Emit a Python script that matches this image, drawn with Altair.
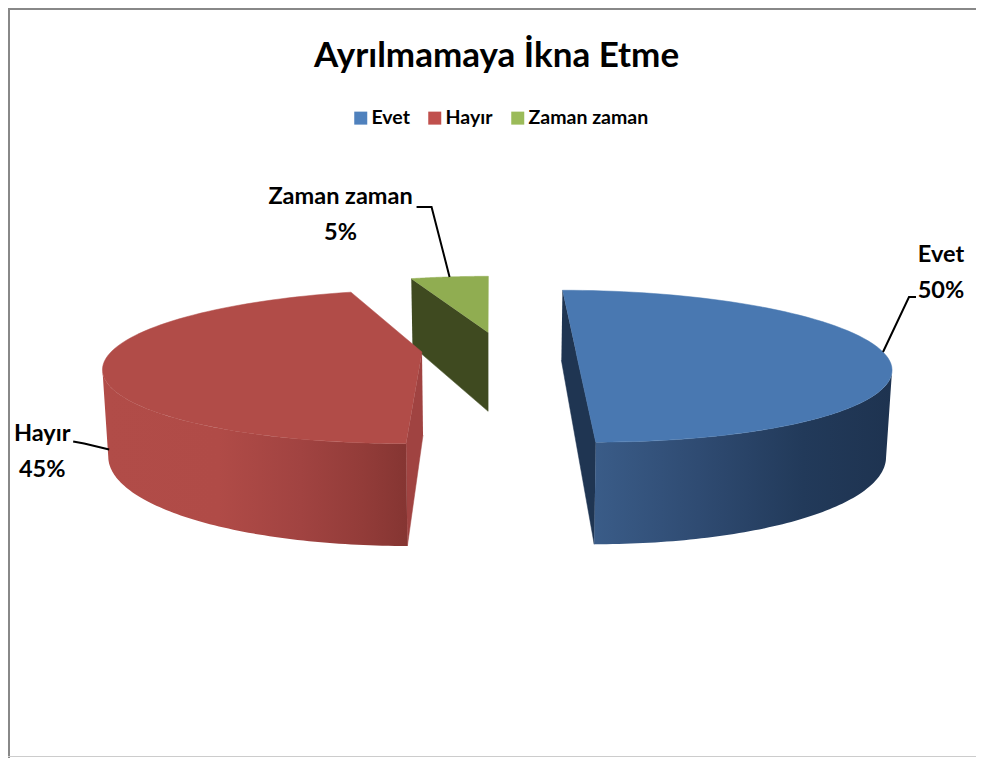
import math
import altair as alt
import pandas as pd

TITLE = "Ayrılmamaya İkna Etme"
categories = ["Evet", "Hayır", "Zaman zaman"]
shares = [50, 45, 5]
legend_colors = ["#4f81bd", "#c0504d", "#9bbb59"]
top_colors = ["#4978b1", "#b14c48", "#90ad51"]
edge_colors = ["#1f3552", "#a04341", "#3f4a20"]

# camera and pie model, in page pixels
W, H = 968, 750
VX, VY, Y0, DEPTH, BOTTOM_X = 490, -40, 392, 83, 0.985
D = 1642
RADIUS = {"Evet": 307, "Hayır": 311, "Zaman zaman": 307}
OFFSET = {"Evet": (86, 0), "Hayır": (-68, 0), "Zaman zaman": (-2, 86)}
x_scale = alt.Scale(domain=[8, 8 + W], range=[0, W], nice=False, zero=False)
y_scale = alt.Scale(domain=[8 + H, 8], range=[H, 0], nice=False, zero=False)


def proj(cat, t, r=1.0, bottom=False):
    ox, oz = OFFSET[cat]
    R = RADIUS[cat]
    X = ox + r * R * math.sin(math.radians(t))
    Z = oz + r * R * math.cos(math.radians(t))
    u = D / (D + Z)
    return (VX + X * u * (BOTTOM_X if bottom else 1), VY + (Y0 + (DEPTH if bottom else 0)) * u)


def arc(a, b, n=80):
    return [a + (b - a) * i / n for i in range(n + 1)]


def poly(points, **style):
    df = pd.DataFrame([{"x": p[0], "y": p[1], "i": i} for i, p in enumerate(points)])
    return alt.Chart(df).mark_line(**style).encode(
        x=alt.X("x:Q", scale=x_scale, axis=None),
        y=alt.Y("y:Q", scale=y_scale, axis=None),
        order="i:Q",
    )


angles = {}
start = 0.0
for c, s in zip(categories, shares):
    angles[c] = (start, start + s * 3.6)
    start += s * 3.6


def solid(col):
    return dict(fill=col, stroke=col, strokeWidth=0.5)


def grad(stops):
    return dict(
        fill=alt.Gradient(
            gradient="linear", x1=0, x2=1, y1=0, y2=0,
            stops=[alt.GradientStop(offset=o, color=c) for o, c in stops],
        ),
        strokeWidth=0,
    )


def silhouette(cat, a, b, pick):
    return pick(arc(a, b, 360), key=lambda t: proj(cat, t)[0])


layers = []

# Zaman zaman
c = "Zaman zaman"
a, b = angles[c]
layers.append(poly([proj(c, a), proj(c, a, 0), proj(c, a, 0, True), proj(c, a, 1, True)], **solid(edge_colors[2])))
layers.append(poly([proj(c, t) for t in arc(a, b)] + [proj(c, a, 0)], **solid(top_colors[2])))

# Hayır
c = "Hayır"
a, b = angles[c]
layers.append(poly([proj(c, a, 0), proj(c, a), proj(c, a, 1, True), proj(c, a, 0, True)], **solid(edge_colors[1])))
front = arc(a, silhouette(c, a, b, min))
layers.append(poly(
    [proj(c, t) for t in front] + [proj(c, t, 1, True) for t in reversed(front)],
    **grad([(0, "#b14c48"), (0.38, "#b04b47"), (0.65, "#a14341"), (0.85, "#933c39"), (1, "#853532")]),
))
layers.append(poly([proj(c, t) for t in arc(a, b)] + [proj(c, a, 0)], **solid(top_colors[1])))

# Evet
c = "Evet"
a, b = angles[c]
layers.append(poly([proj(c, a), proj(c, b), proj(c, b, 1, True), proj(c, a, 1, True)], **solid(edge_colors[0])))
front = arc(silhouette(c, a, b, max), b)
layers.append(poly(
    [proj(c, t) for t in front] + [proj(c, t, 1, True) for t in reversed(front)],
    **grad([(0, "#3a5c88"), (0.35, "#2f4b72"), (0.7, "#223a5a"), (1, "#1e3350")]),
))
layers.append(poly([proj(c, t) for t in arc(a, b)] + [proj(c, a, 0)], **solid(top_colors[0])))

# callouts and labels, anchored on each slice's bisector
bends = {"Evet": [(26, -55), (33, -55)], "Hayır": [(-25, -6), (-36, -8)], "Zaman zaman": [(-18, -70), (-33, -70)]}
label_off = {"Evet": (58, -97), "Hayır": (-67, -16), "Zaman zaman": (-109, -80)}
rows = []
for c, s in zip(categories, shares):
    a, b = angles[c]
    m = (a + b) / 2
    ax, ay = proj(c, m, 1, c == "Hayır")
    pts = [(ax, ay)] + [(ax + dx, ay + dy) for dx, dy in bends[c]]
    layers.append(poly(pts, stroke="#000000", strokeWidth=2, fillOpacity=0))
    dx, dy = label_off[c]
    rows.append({"x": ax + dx, "y": ay + dy, "label": f"{c}\n{s}%"})

layers.append(
    alt.Chart(pd.DataFrame(rows))
    .mark_text(font="Lato", fontWeight="bold", fontSize=23.5, lineBreak="\n", lineHeight=36, align="center", color="#000000")
    .encode(x=alt.X("x:Q", scale=x_scale, axis=None), y=alt.Y("y:Q", scale=y_scale, axis=None), text="label:N")
)

# legend
layers.append(
    alt.Chart(pd.DataFrame({"cat": categories, "x": [100, 100, 100], "y": [100, 100, 100]}))
    .mark_square(size=0, opacity=1)
    .encode(
        x=alt.X("x:Q", scale=x_scale, axis=None),
        y=alt.Y("y:Q", scale=y_scale, axis=None),
        color=alt.Color(
            "cat:N",
            scale=alt.Scale(domain=categories, range=legend_colors),
            legend=alt.Legend(
                title=None, orient="none", direction="horizontal", legendX=343, legendY=100,
                symbolType="square", symbolSize=169, symbolOpacity=1, symbolStrokeWidth=0,
                labelFont="Lato", labelFontWeight="bold", labelFontSize=19.5, labelColor="#000000",
                columnPadding=15, symbolOffset=0, labelOffset=1, labelLimit=300,
            ),
        ),
    )
)

# chart frame
layers.append(poly([(9, 8), (9, 758)], stroke="#888888", strokeWidth=2))
layers.append(poly([(8, 9), (976, 9)], stroke="#888888", strokeWidth=2))
layers.append(poly([(8, 756.5), (976, 756.5)], stroke="#cccccc", strokeWidth=1))

chart = (
    alt.layer(*layers)
    .properties(
        width=W, height=H, padding=0,
        autosize=alt.AutoSizeParams(type="none"),
        title=alt.TitleParams(TITLE, font="Lato", fontWeight="bold", fontSize=35, color="#000000",
                              anchor="start", dx=310, dy=70, offset=0),
    )
    .configure_view(stroke=None)
)
chart.save("out.html", embed_options={"renderer": "svg", "actions": False})
